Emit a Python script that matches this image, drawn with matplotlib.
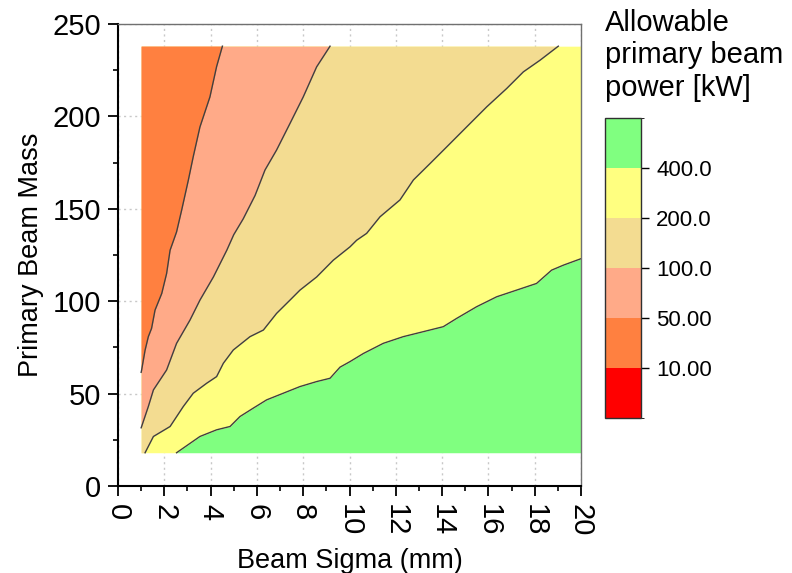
import numpy as np
import matplotlib
matplotlib.use("Agg")
import matplotlib.pyplot as plt
from matplotlib.colors import ListedColormap, BoundaryNorm
from matplotlib.cm import ScalarMappable
from matplotlib.ticker import MultipleLocator

plt.rcParams['font.family'] = ['Liberation Sans', 'DejaVu Sans']

# Calculated domain: beam sigma (mm) and primary beam mass
SIGMA_MIN, SIGMA_MAX = 1.0, 20.0
MASS_MIN, MASS_MAX = 18.0, 238.0

# Power levels (kW) and the fill colour of each band
levels = [10, 50, 100, 200, 400]
level_labels = ["10.00", "50.00", "100.0", "200.0", "400.0"]
band_colors = ["#FF0000", "#FF8040", "#FFAA88", "#F3DC91", "#FFFF80", "#80FF80"]

# Iso-power contours: beam sigma (mm) vs. mass, ordered by increasing mass
c50_mass = [61.5, 62.7, 73.5, 80.8, 85.3, 95.2, 104.2, 115.0, 127.6, 137.5,
            149.3, 165.6, 178.2, 194.3, 210.5, 227.0, 238.0]
c50_sigma = [1.00, 1.02, 1.17, 1.31, 1.45, 1.60, 1.89, 2.10, 2.25, 2.53,
             2.75, 3.04, 3.25, 3.54, 3.97, 4.26, 4.51]

c100_mass = [31.5, 32.2, 43.0, 52.0, 62.8, 77.2, 89.8, 100.6, 113.1, 127.6,
             136.0, 144.6, 157.2, 171.0, 181.8, 196.2, 210.5, 226.8, 238.0]
c100_sigma = [1.00, 1.02, 1.31, 1.53, 2.10, 2.53, 3.11, 3.54, 4.12, 4.70,
              5.00, 5.41, 5.92, 6.35, 6.85, 7.43, 8.00, 8.58, 9.16]

c200_mass = [18.0, 26.8, 32.2, 43.0, 50.2, 55.6, 59.2, 66.4, 73.6, 80.8,
             84.4, 93.4, 100.6, 106.0, 113.1, 122.2, 129.4, 133.0, 136.7,
             145.7, 154.8, 165.6, 174.5, 183.5, 194.3, 205.2, 215.1, 224.1,
             230.4, 238.0]
c200_sigma = [1.17, 1.53, 2.25, 2.82, 3.25, 3.83, 4.26, 4.55, 4.98, 5.70,
              6.28, 6.85, 7.43, 7.86, 8.58, 9.30, 10.02, 10.31, 10.74,
              11.32, 12.18, 12.76, 13.48, 14.20, 15.06, 15.93, 16.79, 17.51,
              18.23, 19.02]

c400_mass = [18.0, 26.8, 30.4, 32.2, 37.6, 42.1, 46.6, 50.2, 53.8, 56.5,
             58.3, 64.3, 67.3, 71.7, 77.2, 80.8, 86.2, 90.7, 97.0, 102.4,
             106.0, 109.6, 116.8, 119.5, 123.0]
c400_sigma = [2.53, 3.54, 4.26, 4.84, 5.27, 5.84, 6.42, 7.14, 7.86, 8.58,
              9.16, 9.59, 10.02, 10.60, 11.46, 12.32, 14.05, 14.63, 15.49,
              16.36, 17.22, 18.08, 18.73, 19.24, 20.00]

contours = [(c50_mass, c50_sigma), (c100_mass, c100_sigma),
            (c200_mass, c200_sigma), (c400_mass, c400_sigma)]


def closed_contour(m, s):
    """Extend a contour to span the whole mass range along the domain edge."""
    m = np.asarray(m, float)
    s = np.asarray(s, float)
    mm = np.concatenate(([MASS_MIN], m, [MASS_MAX]))
    ss = np.concatenate(([SIGMA_MIN if m[0] > MASS_MIN else s[0]], s,
                         [SIGMA_MAX if m[-1] < MASS_MAX else s[-1]]))
    return mm, ss


fig = plt.figure(figsize=(7.92, 5.73), dpi=100)
ax = fig.add_axes([118 / 792, 1 - 486 / 573, 463 / 792, 462 / 573])

# Highest band: everything at larger sigma than the last contour
mm, ss = closed_contour(*contours[-1])
ax.fill_betweenx(mm, ss, SIGMA_MAX, color=band_colors[5], lw=0, zorder=1)

# Lower bands are laid on top, each filling everything left of its contour
for (m, s), col in zip(contours[::-1], band_colors[4:0:-1]):
    mm, ss = closed_contour(m, s)
    ax.fill_betweenx(mm, SIGMA_MIN, ss, color=col, lw=0, zorder=1.1)

for m, s in contours:
    ax.plot(s, m, color="#404040", lw=1.0, zorder=2)

ax.set_xlim(0, 20)
ax.set_ylim(0, 250)
ax.xaxis.set_major_locator(MultipleLocator(2))
ax.xaxis.set_minor_locator(MultipleLocator(1))
ax.yaxis.set_major_locator(MultipleLocator(50))
ax.yaxis.set_minor_locator(MultipleLocator(25))

ax.set_axisbelow(True)
ax.grid(True, which="major", color="#c8c8c8", lw=1.0, ls=(0, (1.5, 2.5)))

for side in ("left", "bottom"):
    ax.spines[side].set_linewidth(1.5)
    ax.spines[side].set_color("black")
for side in ("top", "right"):
    ax.spines[side].set_linewidth(1.0)
    ax.spines[side].set_color("#707070")

ax.tick_params(which="major", direction="out", length=7.2, width=1.3,
               labelsize=21)
ax.tick_params(which="minor", direction="out", length=3.6, width=1.2)
ax.tick_params(axis="y", pad=5)
ax.tick_params(axis="x", pad=6)
for lab in ax.get_xticklabels():
    lab.set_rotation(270)

ax.set_xlabel("Beam Sigma (mm)", fontsize=19.5, labelpad=8)
ax.set_ylabel("Primary Beam Mass", fontsize=19.5, labelpad=6)

# Colour bar with equal-height bands
cax = fig.add_axes([605 / 792, 1 - 418 / 573, 36 / 792, 300 / 573])
cmap = ListedColormap(band_colors)
norm = BoundaryNorm(np.arange(len(band_colors) + 1), cmap.N)
cb = fig.colorbar(ScalarMappable(norm=norm, cmap=cmap), cax=cax,
                  ticks=np.arange(1, len(levels) + 1))
cb.set_ticklabels(level_labels)
cb.outline.set_linewidth(1.0)
cb.outline.set_edgecolor("#303030")
cax.tick_params(length=6, width=1.0, labelsize=16, pad=5)

fig.text(605 / 792, 1 - 9 / 573, "Allowable\nprimary beam\npower [kW]",
         fontsize=21, va="top", ha="left", linespacing=1.2)

fig.savefig("out.png", dpi=100)
